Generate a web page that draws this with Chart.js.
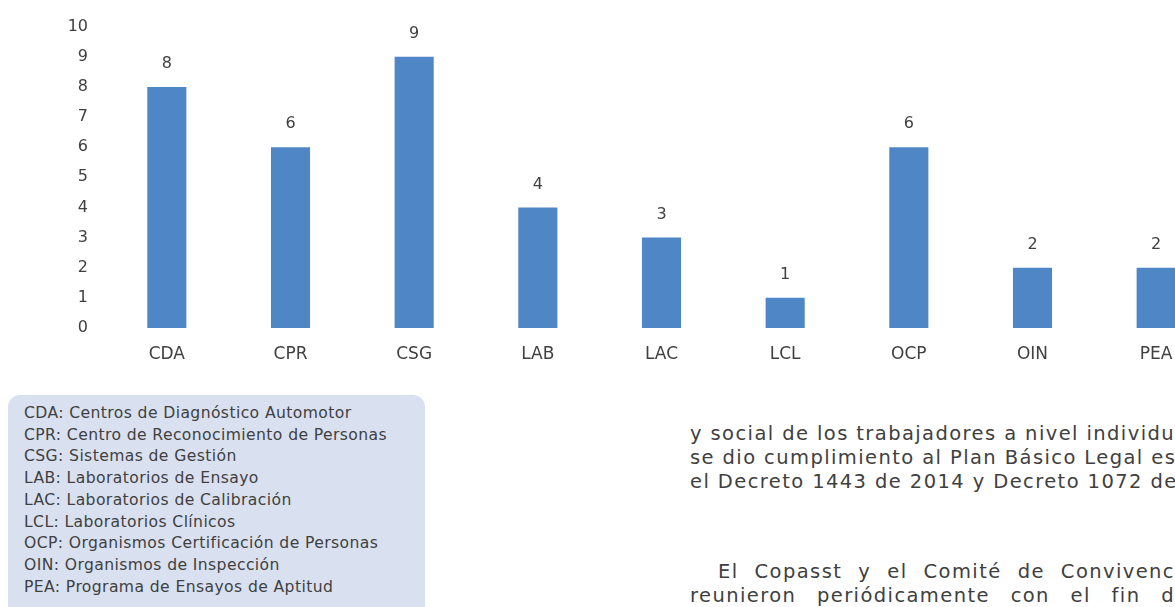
<!DOCTYPE html>
<html>
<head>
<meta charset="utf-8">
<script src="https://cdn.jsdelivr.net/npm/chart.js@4"></script>
<style>
  html, body { margin: 0; padding: 0; background: #fff; overflow: hidden; width: 1175px; height: 607px; }
  body { position: relative; font-family: "DejaVu Sans", sans-serif; color: #404040; }
  #wrap { position: absolute; left: 0; top: 0; width: 1230px; height: 370px; }
  #chart { display: block; }
  #siglas {
    position: absolute; left: 8px; top: 395px; width: 417px; height: 240px;
    background: #d9e1f0; border-radius: 12px; box-sizing: border-box;
    padding: 8px 0 0 16px; font-size: 15.6px; letter-spacing: 0.4px; line-height: 21.7px; white-space: nowrap;
  }
  #texto { position: absolute; left: 690px; top: 0; width: 700px; white-space: nowrap; }
  #texto div { position: absolute; left: 0; line-height: 24px; font-size: 19.5px; }
</style>
</head>
<body>
<div id="wrap"><canvas id="chart" width="1230" height="370"></canvas></div>

<div id="siglas"></div>

<div id="texto">
  <div style="top:422px">y social de los trabajadores a nivel individual y colectivo,</div>
  <div style="top:446px">se dio cumplimiento al Plan Básico Legal establecido en</div>
  <div style="top:470px">el Decreto 1443 de 2014 y Decreto 1072 de 2015.</div>
  <div style="top:560px; padding-left:28px" data-ajuste="El Copasst y el Comité de Convivenc">El Copasst y el Comité de Convivencia Laboral se</div>
  <div style="top:584px" data-ajuste="reunieron periódicamente con el fin d">reunieron periódicamente con el fin de</div>
</div>

<script>
// --- Datos ---
const categorias = ['CDA', 'CPR', 'CSG', 'LAB', 'LAC', 'LCL', 'OCP', 'OIN', 'PEA'];
const valores = [8, 6, 9, 4, 3, 1, 6, 2, 2];
const descripciones = [
  'Centros de Diagnóstico Automotor',
  'Centro de Reconocimiento de Personas',
  'Sistemas de Gestión',
  'Laboratorios de Ensayo',
  'Laboratorios de Calibración',
  'Laboratorios Clínicos',
  'Organismos Certificación de Personas',
  'Organismos de Inspección',
  'Programa de Ensayos de Aptitud'
];

const colorTexto = '#404040';
const fuente = '"DejaVu Sans", sans-serif';

// Caja de siglas
document.getElementById('siglas').innerHTML =
  categorias.map((c, i) => `<div>${c}: ${descripciones[i]}</div>`).join('');

// Párrafo: espaciado de letras para que la primera línea llegue al borde derecho
const medidor = document.createElement('canvas').getContext('2d');
const tamTexto = 19.5;
medidor.font = tamTexto + 'px ' + fuente;
const ancho = txt => medidor.measureText(txt).width;
const borde = 1175 - 690;
const linea1 = 'y social de los trabajadores a nivel individu';
const ls = (borde - ancho(linea1)) / linea1.length;
document.querySelectorAll('#texto div').forEach(d => {
  d.style.letterSpacing = ls + 'px';
  const pref = d.dataset.ajuste;
  if (pref) {
    const sangria = parseFloat(d.style.paddingLeft) || 0;
    const espacios = pref.split(' ').length - 1;
    const natural = ancho(pref) + ls * pref.length;
    d.style.wordSpacing = ((borde - sangria - natural) / espacios) + 'px';
  }
});

// Etiquetas de valor encima de cada barra
const etiquetasValor = {
  id: 'etiquetasValor',
  afterDatasetsDraw(chart) {
    const ctx = chart.ctx;
    const meta = chart.getDatasetMeta(0);
    ctx.save();
    ctx.font = '16px ' + fuente;
    ctx.fillStyle = colorTexto;
    ctx.textAlign = 'center';
    ctx.textBaseline = 'middle';
    meta.data.forEach((bar, i) => {
      ctx.fillText(valores[i], bar.x, bar.y - 23);
    });
    ctx.restore();
  }
};

new Chart(document.getElementById('chart').getContext('2d'), {
  type: 'bar',
  data: {
    labels: categorias,
    datasets: [{
      data: valores,
      backgroundColor: '#4e86c6',
      borderWidth: 0,
      categoryPercentage: 1,
      barPercentage: 0.316
    }]
  },
  options: {
    responsive: false,
    animation: false,
    events: [],
    layout: { padding: { left: 0, right: 12, top: 24, bottom: 0 } },
    plugins: { legend: { display: false }, tooltip: { enabled: false } },
    scales: {
      x: {
        grid: { display: false, drawTicks: false },
        border: { display: false },
        ticks: { color: colorTexto, font: { family: fuente, size: 17 }, padding: 16 },
        afterFit: s => { s.height = 42; }
      },
      y: {
        min: 0,
        max: 10,
        grid: { display: false, drawTicks: false },
        border: { display: false },
        ticks: { stepSize: 1, color: colorTexto, font: { family: fuente, size: 16 }, padding: 17 },
        afterFit: s => { s.width = 105; }
      }
    }
  },
  plugins: [etiquetasValor]
});
</script>
</body>
</html>
